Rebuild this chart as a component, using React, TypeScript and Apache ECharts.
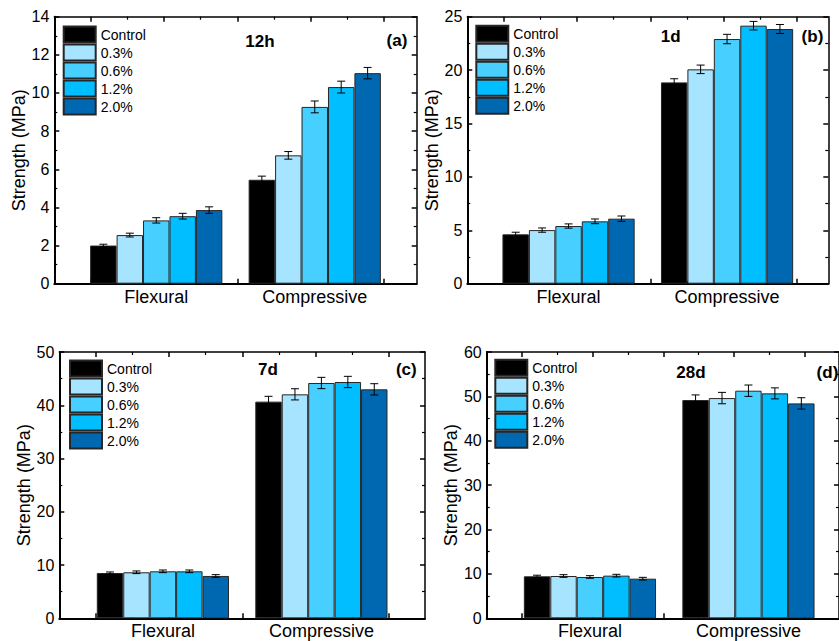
import React, { useEffect, useRef } from 'react';
import * as echarts from 'echarts';

// ---------- data ----------
const categories = ['Flexural', 'Compressive'];
const seriesNames = ['Control', '0.3%', '0.6%', '1.2%', '2.0%'];
const ageLabels = ['12h', '1d', '7d', '28d'];
const panelTags = ['(a)', '(b)', '(c)', '(d)'];

// [series][category] -> [Flexural, Compressive]
const mean12h = [[2.0, 5.45], [2.55, 6.73], [3.32, 9.27], [3.54, 10.31], [3.86, 11.04]];
const err12h = [[0.07, 0.19], [0.1, 0.2], [0.14, 0.31], [0.15, 0.31], [0.17, 0.3]];
const mean1d = [[4.62, 18.85], [5.02, 20.07], [5.4, 22.91], [5.84, 24.16], [6.09, 23.85]];
const err1d = [[0.2, 0.34], [0.2, 0.4], [0.2, 0.44], [0.22, 0.4], [0.25, 0.42]];
const mean7d = [[8.5, 40.68], [8.64, 42.05], [8.82, 44.18], [8.82, 44.37], [7.95, 42.99]];
const err7d = [[0.2, 1.0], [0.25, 1.05], [0.25, 1.06], [0.25, 1.06], [0.25, 1.06]];
const mean28d = [[9.46, 49.17], [9.53, 49.62], [9.31, 51.28], [9.61, 50.68], [8.93, 48.42]];
const err28d = [[0.25, 1.16], [0.3, 1.28], [0.3, 1.28], [0.3, 1.24], [0.3, 1.28]];

const yMaxes = [14, 25, 50, 60];
const yIntervals = [2, 5, 10, 10];
const xMajorTicks = [1, 3, 5, 7, 9];
const xMinorTicks = [2, 4, 6, 8];

// ---------- styles / layout ----------
const seriesColors = ['#000000', '#A6E4FF', '#47CFFF', '#00BEFF', '#0068B0'];
const FONT = '"Liberation Sans", Arial, Helvetica, sans-serif';
const TICK_SPACING = 36.6;
const BAR_GRID_WIDTH = 317;
const CAT_GAP = 0.166;

const frames = [
  { left: 54.3, top: 16.7, width: 362.4, height: 267 },
  { left: 467.3, top: 16.7, width: 361, height: 267 },
  { left: 59.3, top: 352, width: 365.7, height: 266.3 },
  { left: 486.7, top: 352, width: 365, height: 266.3 },
];
const legendPos = [
  { left: 62.7, top: 25.5 },
  { left: 475.3, top: 24.8 },
  { left: 69, top: 359.5 },
  { left: 494.3, top: 358.8 },
];
const agePos = [
  { x: 260, y: 41.7 },
  { x: 670.7, y: 36.7 },
  { x: 268, y: 369.3 },
  { x: 691, y: 372.3 },
];
const tagPos = [
  { x: 407.3, y: 40 },
  { x: 823.3, y: 36.7 },
  { x: 416.7, y: 369 },
  { x: 838.3, y: 372 },
];
const nameGaps = [24, 26, 26, 25];

const means = [mean12h, mean1d, mean7d, mean28d];
const errs = [err12h, err1d, err7d, err28d];

function buildOption() {
  const grid: any[] = [];
  const xAxis: any[] = [];
  const yAxis: any[] = [];
  const series: any[] = [];
  const legend: any[] = [];
  const graphic: any[] = [];

  frames.forEach((f, p) => {
    const xMax = f.width / TICK_SPACING;
    const gFrame = grid.length;
    grid.push({ left: f.left, top: f.top, width: f.width, height: f.height });
    const gMinor = grid.length;
    grid.push({ left: f.left, top: f.top, width: f.width, height: f.height });
    const gBar = grid.length;
    grid.push({
      left: f.left + (f.width - BAR_GRID_WIDTH) / 2,
      top: f.top,
      width: BAR_GRID_WIDTH,
      height: f.height,
    });

    const frameX = (pos: string, lw: number) => ({
      type: 'value',
      gridIndex: gFrame,
      position: pos,
      min: 0,
      max: xMax,
      axisLine: { show: true, onZero: false, lineStyle: { color: '#000', width: lw } },
      axisTick: { show: true, inside: true, length: 5, customValues: xMajorTicks, lineStyle: { color: '#000', width: 1.5 } },
      axisLabel: { show: false },
      splitLine: { show: false },
    });
    xAxis.push(frameX('bottom', 2));
    xAxis.push(frameX('top', 1.5));

    const minorX = (pos: string) => ({
      type: 'value',
      gridIndex: gMinor,
      position: pos,
      min: 0,
      max: xMax,
      axisLine: { show: false, onZero: false },
      axisTick: { show: true, inside: true, length: 3, customValues: xMinorTicks, lineStyle: { color: '#000', width: 1.2 } },
      axisLabel: { show: false },
      splitLine: { show: false },
    });
    xAxis.push(minorX('bottom'));
    xAxis.push(minorX('top'));

    const barXIndex = xAxis.length;
    xAxis.push({
      type: 'category',
      gridIndex: gBar,
      position: 'bottom',
      data: categories,
      axisLine: { show: false, onZero: false },
      axisTick: { show: false },
      axisLabel: { show: true, fontSize: 18, color: '#000', margin: 4, fontFamily: FONT },
      splitLine: { show: false },
    });

    const frameY = (pos: string, withLabels: boolean, lw: number) => ({
      type: 'value',
      gridIndex: gFrame,
      position: pos,
      min: 0,
      max: yMaxes[p],
      interval: yIntervals[p],
      axisLine: { show: true, onZero: false, lineStyle: { color: '#000', width: lw } },
      axisTick: { show: true, inside: true, length: 5, lineStyle: { color: '#000', width: 1.5 } },
      minorTick: { show: true, splitNumber: 2, length: 3, lineStyle: { color: '#000', width: 1.2 } },
      axisLabel: { show: withLabels, fontSize: 16, color: '#000', margin: 5, fontFamily: FONT },
      splitLine: { show: false },
      minorSplitLine: { show: false },
      name: withLabels ? 'Strength (MPa)' : '',
      nameLocation: 'middle',
      nameGap: nameGaps[p],
      nameTextStyle: { fontSize: 18, color: '#000', fontFamily: FONT },
    });
    yAxis.push(frameY('left', true, 2));
    yAxis.push(frameY('right', false, 1.5));

    yAxis.push({ type: 'value', gridIndex: gMinor, min: 0, max: yMaxes[p], show: false });
    const barYIndex = yAxis.length;
    yAxis.push({ type: 'value', gridIndex: gBar, min: 0, max: yMaxes[p], show: false });

    seriesNames.forEach((name, s) => {
      series.push({
        type: 'bar',
        name,
        xAxisIndex: barXIndex,
        yAxisIndex: barYIndex,
        data: means[p][s],
        barGap: '0%',
        barCategoryGap: CAT_GAP * 100 + '%',
        itemStyle: { color: seriesColors[s], borderColor: '#262626', borderWidth: 1 },
        emphasis: { disabled: true },
      });
    });

    const errData: number[][] = [];
    seriesNames.forEach((_, s) => {
      categories.forEach((__, c) => {
        errData.push([c, means[p][s][c], errs[p][s][c], s]);
      });
    });
    series.push({
      type: 'custom',
      name: 'err' + p,
      xAxisIndex: barXIndex,
      yAxisIndex: barYIndex,
      data: errData,
      z: 10,
      renderItem: (params: any, api: any) => {
        const c = api.value(0);
        const m = api.value(1);
        const e = api.value(2);
        const s = api.value(3);
        const band = api.size([1, 0])[0];
        const groupW = band * (1 - CAT_GAP);
        const bw = groupW / seriesNames.length;
        const center = api.coord([c, m]);
        const x = center[0] - groupW / 2 + (s + 0.5) * bw;
        const yT = api.coord([c, m + e])[1];
        const yB = api.coord([c, m - e])[1];
        const cap = 4;
        const st = { stroke: '#000', lineWidth: 1 };
        return {
          type: 'group',
          children: [
            { type: 'line', shape: { x1: x, y1: yT, x2: x, y2: yB }, style: st },
            { type: 'line', shape: { x1: x - cap, y1: yT, x2: x + cap, y2: yT }, style: st },
            { type: 'line', shape: { x1: x - cap, y1: yB, x2: x + cap, y2: yB }, style: st },
          ],
        };
      },
    });

    legend.push({
      data: seriesNames,
      orient: 'vertical',
      left: legendPos[p].left,
      top: legendPos[p].top,
      padding: 0,
      itemWidth: 32,
      itemHeight: 16,
      itemGap: 0,
      icon: 'rect',
      selectedMode: false,
      textStyle: { fontSize: 14, lineHeight: 16, color: '#000', fontFamily: FONT },
    });

    graphic.push({
      type: 'text',
      x: agePos[p].x,
      y: agePos[p].y,
      style: { text: ageLabels[p], fill: '#000', font: `bold 17px ${FONT}`, align: 'center', verticalAlign: 'middle' },
    });
    graphic.push({
      type: 'text',
      x: tagPos[p].x,
      y: tagPos[p].y,
      style: { text: panelTags[p], fill: '#000', font: `bold 17px ${FONT}`, align: 'right', verticalAlign: 'middle' },
    });
  });

  return {
    animation: false,
    backgroundColor: '#fff',
    textStyle: { fontFamily: FONT },
    grid,
    xAxis,
    yAxis,
    series,
    legend,
    graphic,
  };
}

export default function App() {
  const ref = useRef<HTMLDivElement>(null);
  useEffect(() => {
    if (!ref.current) return;
    const chart = echarts.init(ref.current, undefined, { renderer: 'svg' });
    chart.setOption(buildOption() as any);
    return () => chart.dispose();
  }, []);
  return (
    <div
      ref={ref}
      style={{ position: 'absolute', left: 0, top: 0, width: 839, height: 641, background: '#fff' }}
    />
  );
}
